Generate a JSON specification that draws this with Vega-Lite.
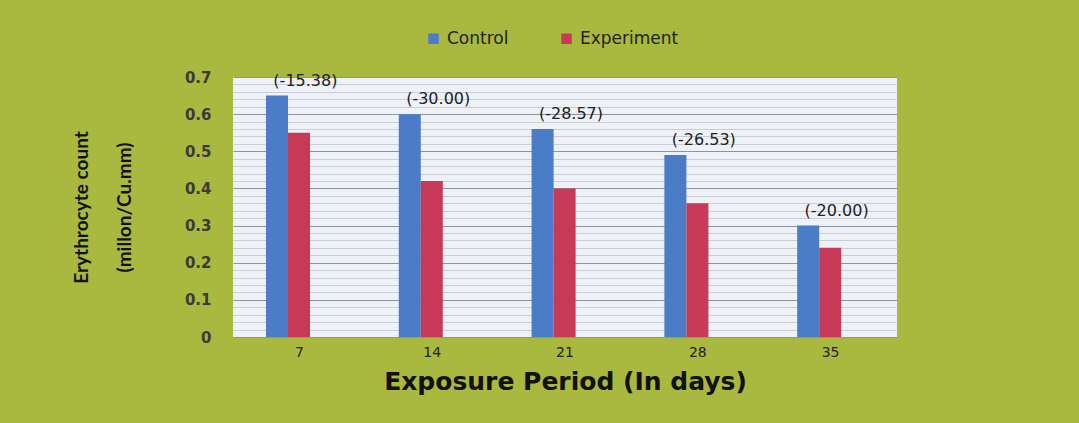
{
  "$schema": "https://vega.github.io/schema/vega-lite/v6.json",
  "width": 664,
  "height": 260,
  "autosize": {"type": "none"},
  "padding": {"left": 233, "top": 77, "right": 182, "bottom": 86},
  "background": "#a9b83e",
  "config": {
    "view": {"fill": "#eef1f5", "stroke": null},
    "font": "DejaVu Sans"
  },
  "data": {
    "values": [
      {"day": "7", "group": "Control", "value": 0.65, "label": "(-15.38)"},
      {"day": "7", "group": "Experiment", "value": 0.55, "label": ""},
      {"day": "14", "group": "Control", "value": 0.60, "label": "(-30.00)"},
      {"day": "14", "group": "Experiment", "value": 0.42, "label": ""},
      {"day": "21", "group": "Control", "value": 0.56, "label": "(-28.57)"},
      {"day": "21", "group": "Experiment", "value": 0.40, "label": ""},
      {"day": "28", "group": "Control", "value": 0.49, "label": "(-26.53)"},
      {"day": "28", "group": "Experiment", "value": 0.36, "label": ""},
      {"day": "35", "group": "Control", "value": 0.30, "label": "(-20.00)"},
      {"day": "35", "group": "Experiment", "value": 0.24, "label": ""}
    ]
  },
  "resolve": {"axis": {"y": "independent"}},
  "layer": [
    {
      "mark": {"type": "bar"},
      "encoding": {
        "x": {
          "field": "day", "type": "nominal", "sort": ["7", "14", "21", "28", "35"],
          "scale": {"paddingInner": 0.4, "paddingOuter": 0.2},
          "axis": {
            "title": "Exposure Period (In days)",
            "labelAngle": 0, "labelFontSize": 14, "labelColor": "#222",
            "labelPadding": 8, "ticks": false, "domain": false,
            "titleFontSize": 25, "titleFontWeight": "bold", "titleColor": "#111",
            "titlePadding": 10, "grid": false
          }
        },
        "xOffset": {
          "field": "group", "type": "nominal",
          "scale": {"paddingInner": 0, "paddingOuter": 0.81, "align": 0.18}
        },
        "y": {
          "field": "value", "type": "quantitative",
          "scale": {"domain": [0, 0.7], "nice": false},
          "axis": {
            "values": [0, 0.1, 0.2, 0.3, 0.4, 0.5, 0.6, 0.7],
            "format": ".1~f",
            "title": ["Erythrocyte count", "(millon/Cu.mm)"],
            "titleFont": "Lato",
            "titleFontSize": 19, "titleFontWeight": "bold", "titleColor": "#111",
            "titleLineHeight": 43, "titlePadding": 50,
            "labelFontSize": 15, "labelFontWeight": "bold", "labelColor": "#3a3a3a",
            "labelPadding": 22, "ticks": false, "domain": false,
            "grid": true, "gridColor": "#8f949c", "gridWidth": 1
          }
        },
        "color": {
          "field": "group", "type": "nominal",
          "scale": {"domain": ["Control", "Experiment"], "range": ["#4b7cc8", "#c63a58"]},
          "legend": {
            "title": null, "orient": "none", "direction": "horizontal",
            "legendX": 192, "legendY": -47,
            "symbolType": "square", "symbolSize": 110, "symbolStrokeWidth": 0,
            "labelFontSize": 17, "labelColor": "#222", "labelOffset": 5, "columnPadding": 49
          }
        }
      }
    },
    {
      "mark": {"type": "text", "dy": -15, "dx": 6, "fontSize": 16, "color": "#222"},
      "encoding": {
        "x": {"field": "day", "type": "nominal", "sort": ["7", "14", "21", "28", "35"]},
        "y": {
          "field": "value", "type": "quantitative",
          "axis": {
            "orient": "right",
            "values": [0.02, 0.04, 0.06, 0.08, 0.12, 0.14, 0.16, 0.18, 0.22, 0.24, 0.26, 0.28, 0.32, 0.34, 0.36, 0.38, 0.42, 0.44, 0.46, 0.48, 0.52, 0.54, 0.56, 0.58, 0.62, 0.64, 0.66, 0.68],
            "labels": false, "ticks": false, "domain": false, "title": null,
            "grid": true, "gridColor": "#c9ced6", "gridWidth": 1
          }
        },
        "text": {"field": "label"}
      }
    }
  ]
}
